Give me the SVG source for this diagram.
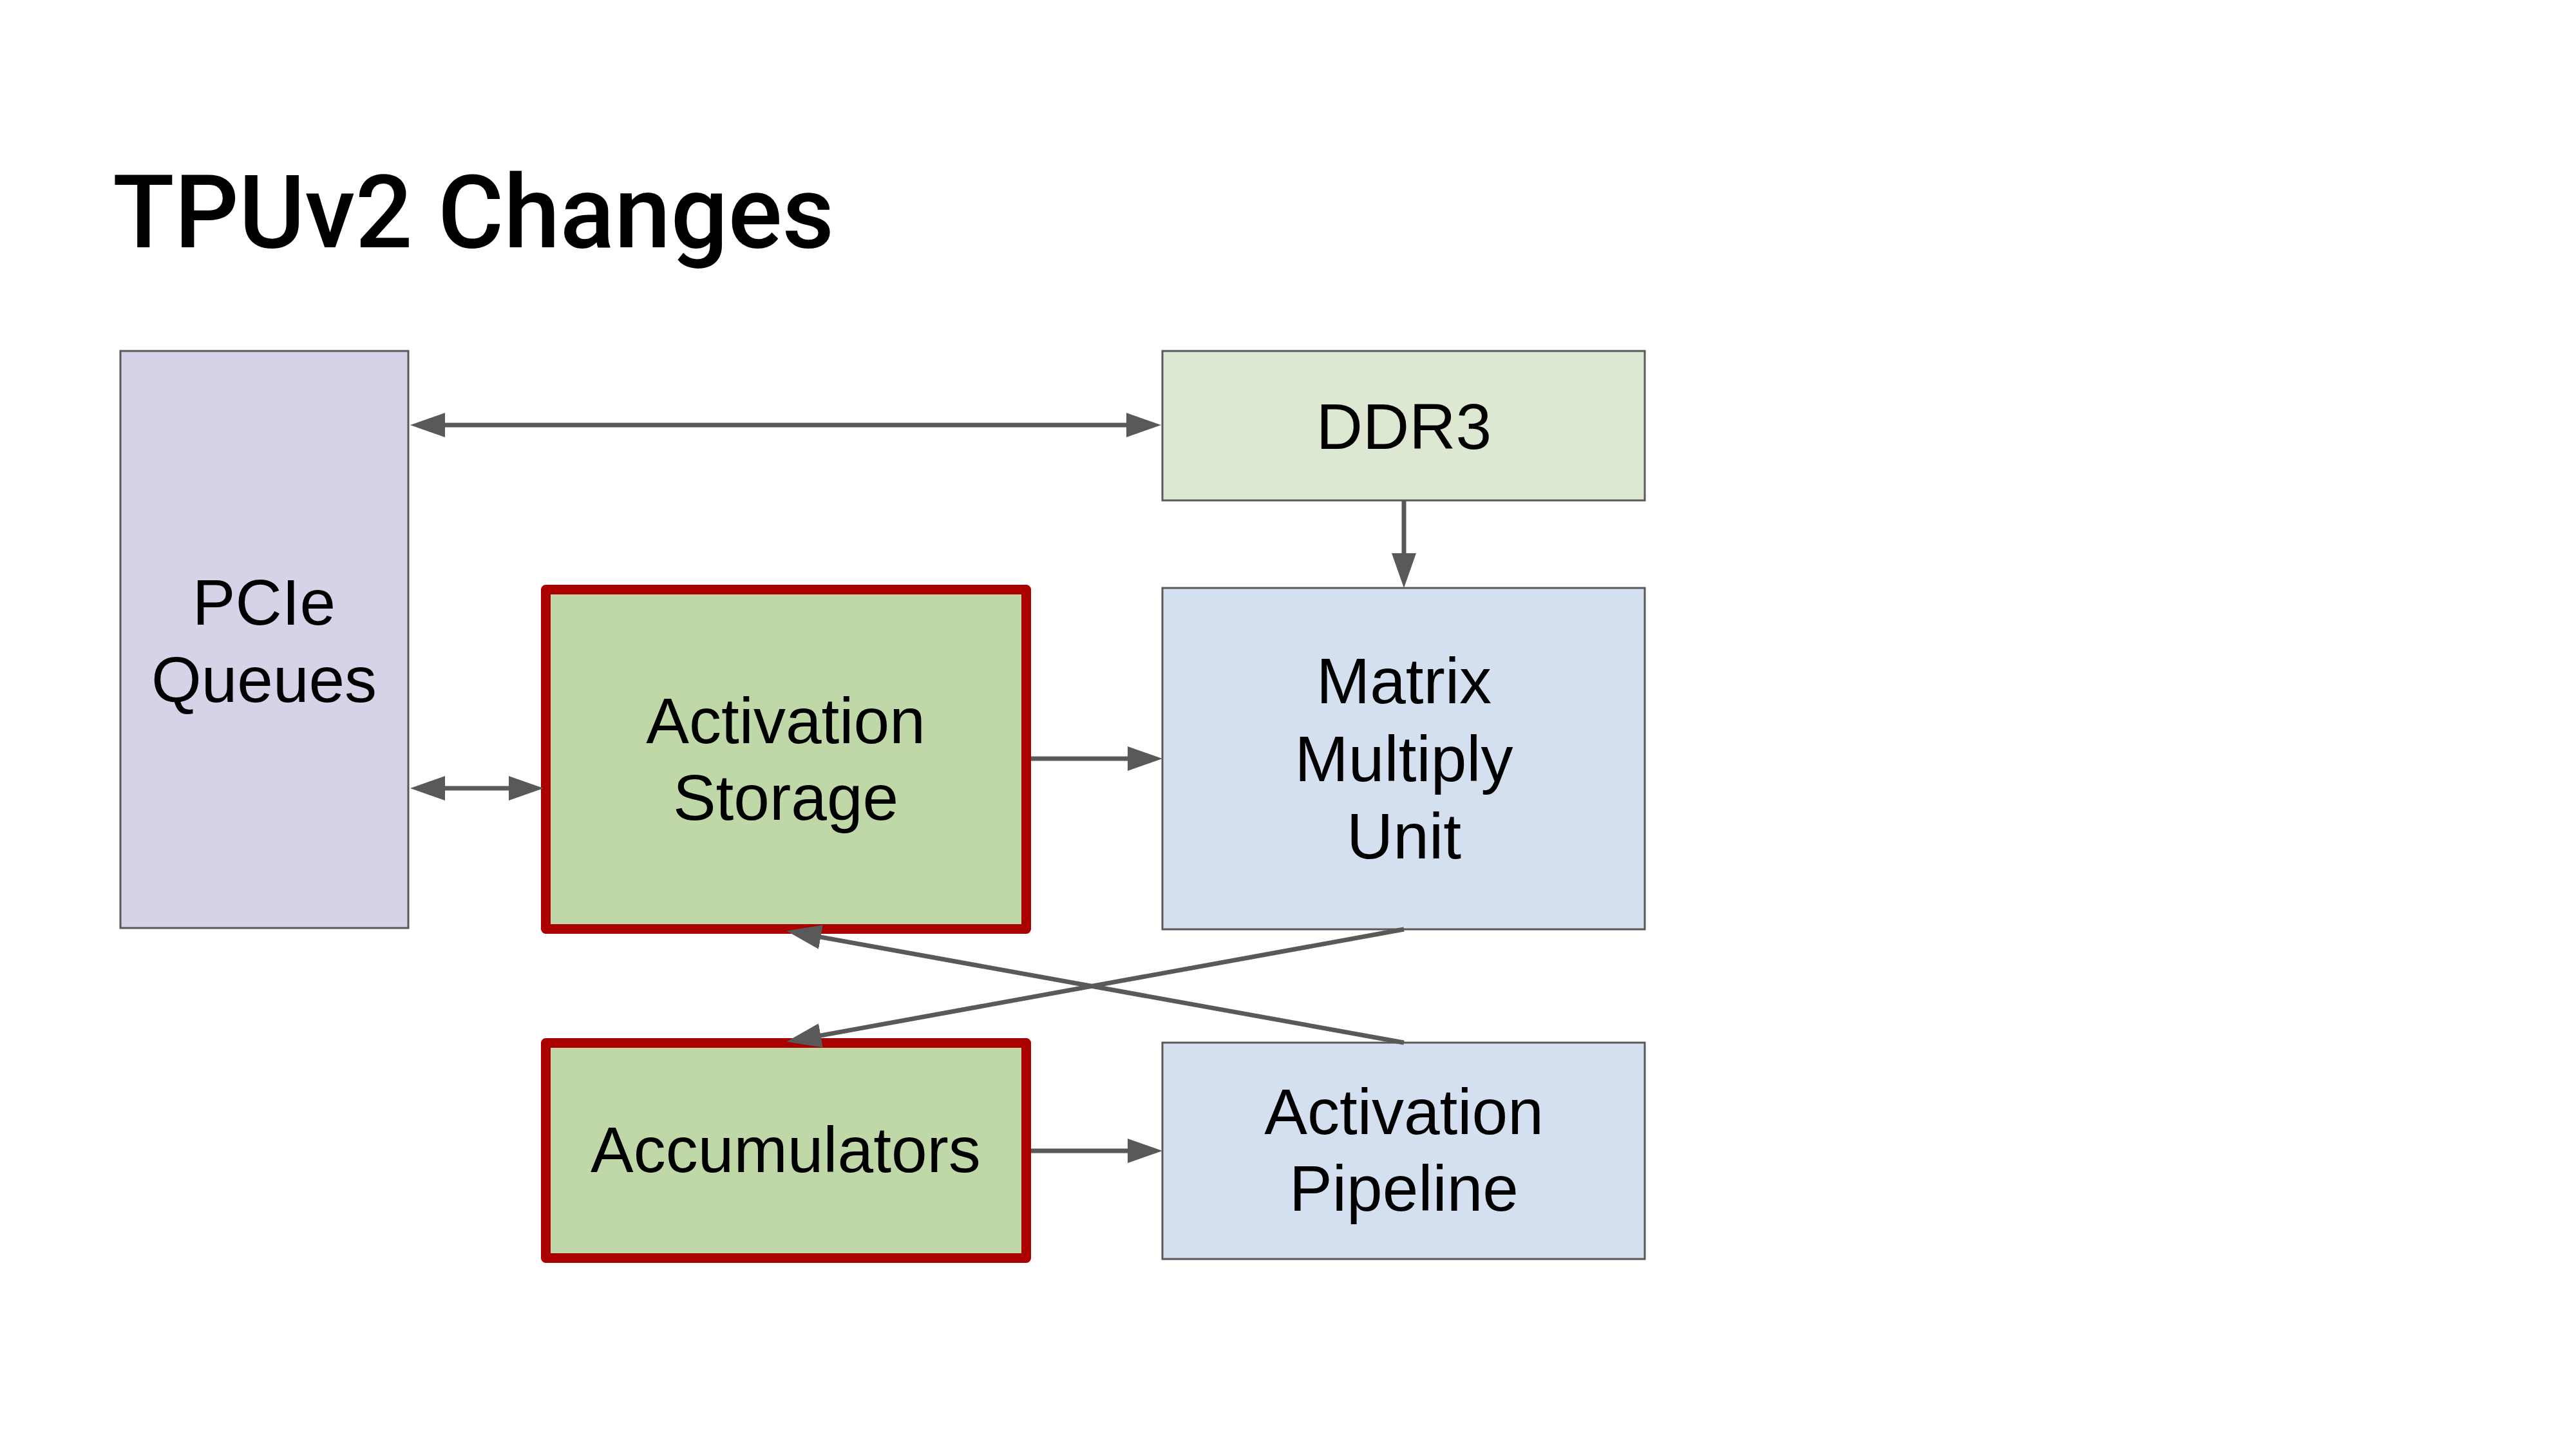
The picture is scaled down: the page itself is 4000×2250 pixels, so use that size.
<svg xmlns="http://www.w3.org/2000/svg" width="4000" height="2250" viewBox="0 0 4000 2250">
<style>
.box{stroke:#595959;stroke-width:3}
.hl{stroke:#aa0000;stroke-width:15;stroke-linejoin:round}
.lbl{font-family:"Liberation Sans",Arial,sans-serif;font-size:100px;fill:#000;text-anchor:middle}
.title{font-family:Roboto,"Liberation Sans",sans-serif;font-size:157px;font-weight:500;fill:#000}
.con{stroke:#595959;stroke-width:7;fill:none}
</style>
<defs>
<marker id="ah" markerUnits="userSpaceOnUse" viewBox="0 0 54 38" markerWidth="54" markerHeight="38" refX="34" refY="19" orient="auto-start-reverse">
<path d="M0,0 L54,19 L0,38 z" fill="#595959"/>
</marker>
</defs>
<rect width="4000" height="2250" fill="#fff"/>
<text class="title" x="175" y="384">TPUv2 Changes</text>
<g id="pcie">
<rect class="box" x="187" y="545" width="447" height="896" fill="#d7d2e8"/>
<text class="lbl" x="410" y="970">PCIe</text>
<text class="lbl" x="410" y="1090">Queues</text>
</g>
<g id="ddr3">
<rect class="box" x="1805" y="545" width="749" height="232" fill="#dde8d3"/>
<text class="lbl" x="2180" y="697">DDR3</text>
</g>
<g id="matrix">
<rect class="box" x="1805" y="913" width="749" height="530" fill="#d4e0f0"/>
<text class="lbl" x="2180" y="1092">Matrix</text>
<text class="lbl" x="2180" y="1213">Multiply</text>
<text class="lbl" x="2180" y="1333">Unit</text>
</g>
<g id="actpipe">
<rect class="box" x="1805" y="1619" width="749" height="336" fill="#d4e0f0"/>
<text class="lbl" x="2180" y="1761">Activation</text>
<text class="lbl" x="2180" y="1880">Pipeline</text>
</g>
<g id="actstore">
<rect class="hl" x="847.5" y="915.5" width="746" height="527" fill="#c0d7a8"/>
<text class="lbl" x="1220" y="1154">Activation</text>
<text class="lbl" x="1220" y="1273">Storage</text>
</g>
<g id="accum">
<rect class="hl" x="847.5" y="1619.5" width="746" height="334" fill="#c0d7a8"/>
<text class="lbl" x="1220" y="1820">Accumulators</text>
</g>
<g id="connectors">
<line class="con" x1="657" y1="660" x2="1783" y2="660" marker-start="url(#ah)" marker-end="url(#ah)"/>
<line class="con" x1="657" y1="1224" x2="824" y2="1224" marker-start="url(#ah)" marker-end="url(#ah)"/>
<line class="con" x1="2180" y1="777" x2="2180" y2="893" marker-end="url(#ah)"/>
<line class="con" x1="1601" y1="1178" x2="1785" y2="1178" marker-end="url(#ah)"/>
<line class="con" x1="1601" y1="1787" x2="1785" y2="1787" marker-end="url(#ah)"/>
<line class="con" x1="2180" y1="1443" x2="1241" y2="1614" marker-end="url(#ah)"/>
<line class="con" x1="2180" y1="1619" x2="1241" y2="1449" marker-end="url(#ah)"/>
</g>
</svg>
